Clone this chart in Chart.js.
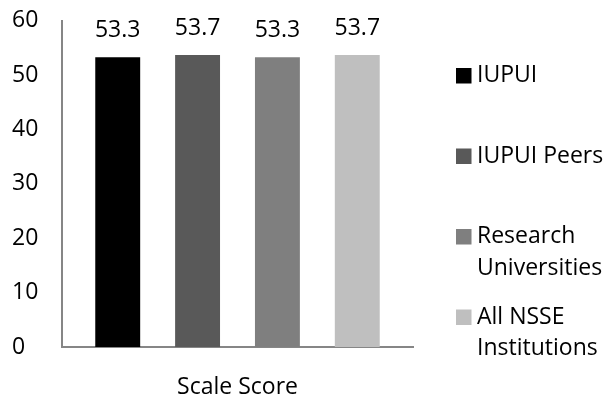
<!DOCTYPE html>
<html>
<head>
<meta charset="utf-8">
<script src="https://cdn.jsdelivr.net/npm/chart.js@4"></script>
<style>
  html, body { margin: 0; padding: 0; background: #fff; }
  #wrap { width: 607px; height: 401px; }
</style>
</head>
<body>
<div id="wrap"><canvas id="chart" width="607" height="401"></canvas></div>
<script>
// data
const categories = [""];
const seriesNames = ["IUPUI", "IUPUI Peers", "Research\nUniversities", "All NSSE\nInstitutions"];
const seriesValues = [53.3, 53.7, 53.3, 53.7];
const seriesColors = ["#000000", "#595959", "#7f7f7f", "#bfbfbf"];
const yTicks = [0, 10, 20, 30, 40, 50, 60];
const axisTitle = "Scale Score";

const FONT = "'Open Sans', sans-serif";
const FSIZE = 23;

// value labels above the bars
const valueLabels = {
  id: "valueLabels",
  afterDatasetsDraw(chart) {
    const ctx = chart.ctx;
    ctx.save();
    ctx.font = FSIZE + "px " + FONT;
    ctx.fillStyle = "#000";
    ctx.textAlign = "center";
    ctx.textBaseline = "middle";
    chart.data.datasets.forEach((ds, i) => {
      chart.getDatasetMeta(i).data.forEach((bar, j) => {
        ctx.fillText(ds.data[j].toFixed(1), bar.x, bar.y - 27);
      });
    });
    ctx.restore();
  }
};

// legend on the right, one item per series
const sideLegend = {
  id: "sideLegend",
  afterDraw(chart) {
    const ctx = chart.ctx;
    ctx.save();
    ctx.font = FSIZE + "px " + FONT;
    ctx.textBaseline = "middle";
    ctx.textAlign = "left";
    chart.data.datasets.forEach((ds, i) => {
      const y = 75.5 + i * 80.5;
      ctx.fillStyle = ds.backgroundColor;
      ctx.fillRect(456, y - 7.5, 15.5, 15.5);
      ctx.fillStyle = "#000";
      ds.label.split("\n").forEach((line, k) => {
        ctx.fillText(line, 477, y + k * 31.5);
      });
    });
    ctx.restore();
  }
};

new Chart(document.getElementById("chart"), {
  type: "bar",
  data: {
    labels: categories,
    datasets: seriesNames.map((name, i) => ({
      label: name,
      data: [seriesValues[i]],
      backgroundColor: seriesColors[i],
      categoryPercentage: 0.91,
      barPercentage: 0.5625
    }))
  },
  options: {
    responsive: false,
    animation: false,
    layout: { padding: { top: 0, right: 194, left: 12, bottom: 0 } },
    plugins: {
      legend: { display: false },
      tooltip: { enabled: false }
    },
    scales: {
      x: {
        afterFit(scale) { scale.height = 54; },
        grid: { display: false },
        border: { display: true, color: "#868686", width: 2 },
        ticks: { display: false },
        title: {
          display: true,
          text: axisTitle,
          color: "#000",
          font: { family: FONT, size: FSIZE },
          padding: { top: 0, bottom: 0 }
        }
      },
      y: {
        min: 0,
        max: 60,
        afterBuildTicks(scale) {
          scale.ticks = yTicks.map(v => ({ value: v }));
        },
        afterFit(scale) { scale.width = 50; },
        grid: { display: false },
        border: { display: true, color: "#868686", width: 2 },
        ticks: {
          color: "#000",
          padding: 7,
          crossAlign: "far",
          font: { family: FONT, size: FSIZE }
        }
      }
    }
  },
  plugins: [valueLabels, sideLegend]
});
</script>
</body>
</html>
